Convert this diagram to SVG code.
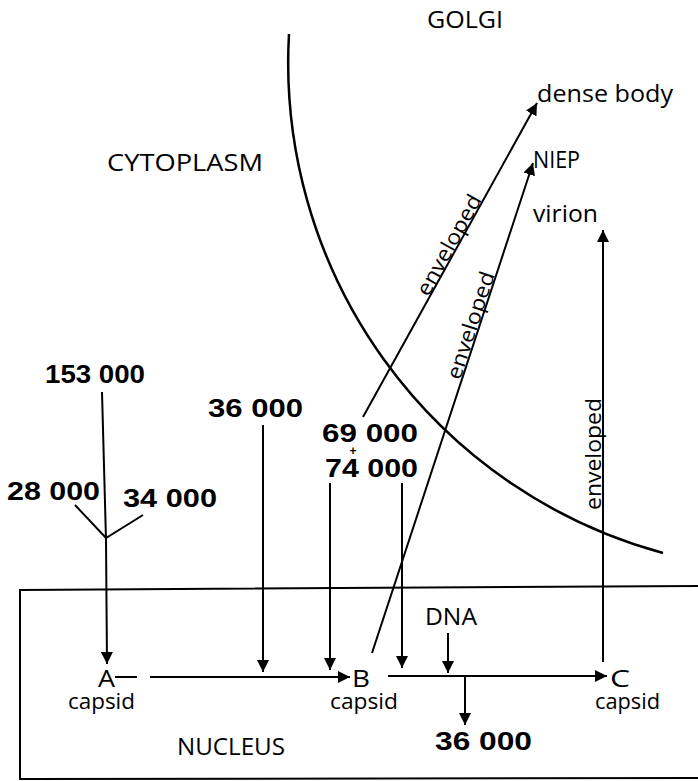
<svg xmlns="http://www.w3.org/2000/svg" width="698" height="781" viewBox="0 0 698 781">
<defs>
<marker id="ah" viewBox="0 0 12 12" refX="12" refY="6" markerWidth="12" markerHeight="12" markerUnits="userSpaceOnUse" orient="auto">
<path d="M0,0 L12,6 L0,12 z" fill="#000"/>
</marker>
<style>
.lbl{font-family:"Open Sans","Liberation Sans",sans-serif;font-size:24px;fill:#000;}
.cap{font-family:"Open Sans","Liberation Sans",sans-serif;font-size:22px;fill:#000;}
.num{font-family:"Liberation Sans","Open Sans",sans-serif;font-weight:bold;font-size:26px;fill:#000;}
.ln{stroke:#000;stroke-width:2;fill:none;}
.arr{stroke:#000;stroke-width:2;fill:none;marker-end:url(#ah);}
.env{font-family:"Open Sans","Liberation Sans",sans-serif;font-size:21px;fill:#000;}
</style>
</defs>
<rect width="698" height="781" fill="#fff"/>
<g id="regions">
<path id="golgi-boundary" d="M289,34 A508,508 0 0 0 663,553" stroke="#000" stroke-width="2.5" fill="none"/>
<path id="nucleus-boundary" d="M698,586 L20,590 L20,779 L698,778" class="ln"/>
</g>
<g id="region-labels">
<text id="golgi" class="lbl" x="427" y="28" textLength="76" lengthAdjust="spacingAndGlyphs">GOLGI</text>
<text id="cytoplasm" class="lbl" x="107" y="171" textLength="156" lengthAdjust="spacingAndGlyphs">CYTOPLASM</text>
<text id="nucleus" class="lbl" x="177" y="755" textLength="108" lengthAdjust="spacingAndGlyphs">NUCLEUS</text>
</g>
<g id="connectors">
<path d="M102,392 L106,540 L107,664" class="arr"/>
<path d="M75,505 L106,538 L143,515" class="ln"/>
<path d="M115,677 L137,677" class="ln"/>
<path d="M150,677 L350,677" class="arr"/>
<path d="M263,425 L263,672" class="arr"/>
<path d="M330,483 L330,670" class="arr"/>
<path d="M402,483 L402,668" class="arr"/>
<path d="M388,676 L607,676" class="arr"/>
<path d="M448,633 L448,673" class="arr"/>
<path d="M465,677 L465,725" class="arr"/>
<path d="M372,653 L533,163" class="arr"/>
<path d="M363,417 L537,103" class="arr"/>
<path d="M603,662 L603,230" class="arr"/>
<text class="env" transform="translate(429,298) rotate(-61)" x="0" y="-1" textLength="112" lengthAdjust="spacingAndGlyphs">enveloped</text>
<text class="env" transform="translate(461,381) rotate(-71.8)" x="0" y="-1" textLength="112" lengthAdjust="spacingAndGlyphs">enveloped</text>
<text class="env" transform="translate(601,510) rotate(-90)" x="0" y="0" textLength="112" lengthAdjust="spacingAndGlyphs">enveloped</text>
</g>
<g id="node-dense-body"><text class="lbl" x="537" y="102" textLength="136" lengthAdjust="spacingAndGlyphs">dense body</text></g>
<g id="node-niep"><text class="lbl" x="533" y="168" textLength="47" lengthAdjust="spacingAndGlyphs">NIEP</text></g>
<g id="node-virion"><text class="lbl" x="533" y="222" textLength="65" lengthAdjust="spacingAndGlyphs">virion</text></g>
<g id="node-p153"><text class="num" x="45" y="383" textLength="100" lengthAdjust="spacingAndGlyphs">153 000</text></g>
<g id="node-p36a"><text class="num" x="208" y="417" textLength="95" lengthAdjust="spacingAndGlyphs">36 000</text></g>
<g id="node-p28"><text class="num" x="7" y="500" textLength="93" lengthAdjust="spacingAndGlyphs">28 000</text></g>
<g id="node-p34"><text class="num" x="123" y="507" textLength="94" lengthAdjust="spacingAndGlyphs">34 000</text></g>
<g id="node-p69-74">
<text class="num" x="322" y="442" textLength="96" lengthAdjust="spacingAndGlyphs">69 000</text>
<text class="num" x="353" y="455" text-anchor="middle" style="font-size:12px">+</text>
<text class="num" x="325" y="477" textLength="93" lengthAdjust="spacingAndGlyphs">74 000</text>
</g>
<g id="node-a-capsid">
<text class="lbl" x="98" y="687" textLength="17" lengthAdjust="spacingAndGlyphs">A</text>
<text class="cap" x="68" y="709" textLength="67" lengthAdjust="spacingAndGlyphs">capsid</text>
</g>
<g id="node-b-capsid">
<text class="lbl" x="352" y="687" textLength="18" lengthAdjust="spacingAndGlyphs">B</text>
<text class="cap" x="330" y="709" textLength="68" lengthAdjust="spacingAndGlyphs">capsid</text>
</g>
<g id="node-c-capsid">
<text class="lbl" x="610" y="687" textLength="20" lengthAdjust="spacingAndGlyphs">C</text>
<text class="cap" x="595" y="709" textLength="65" lengthAdjust="spacingAndGlyphs">capsid</text>
</g>
<g id="node-dna"><text class="lbl" x="425" y="625" textLength="52" lengthAdjust="spacingAndGlyphs">DNA</text></g>
<g id="node-p36b"><text class="num" x="435" y="750" textLength="97" lengthAdjust="spacingAndGlyphs">36 000</text></g>
</svg>
